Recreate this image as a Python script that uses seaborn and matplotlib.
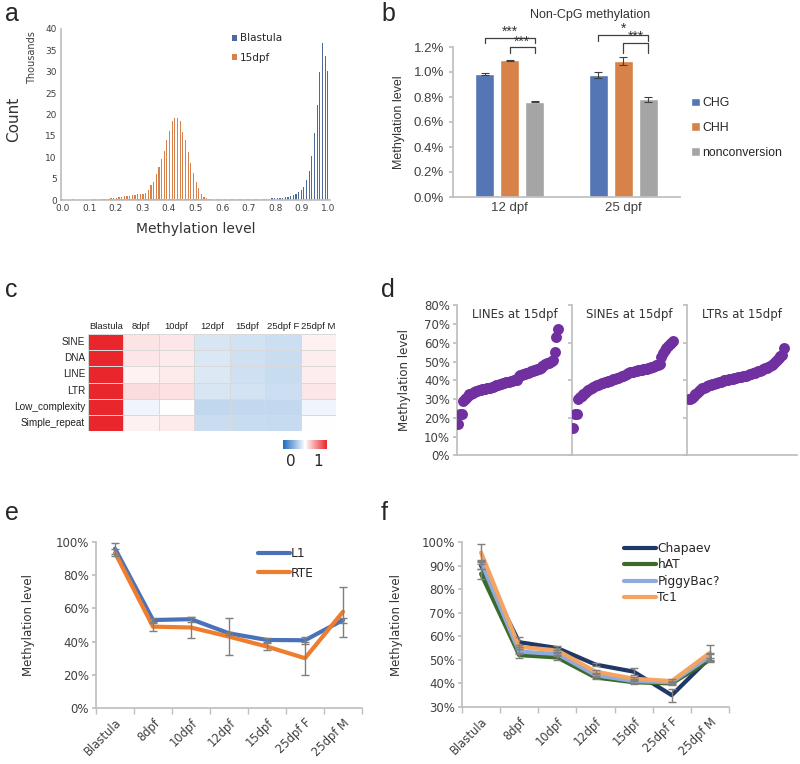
import numpy as np
import pandas as pd
import matplotlib
matplotlib.use('Agg')
import matplotlib.pyplot as plt
import seaborn as sns
from matplotlib.colors import LinearSegmentedColormap

# ---------------- data ----------------
# a: CpG methylation histogram, counts in thousands per 0.01 bin
hist_bins = np.round(np.arange(0, 101) / 100, 2)
blastula_counts = [
    0.20, 0.10, 0.10, 0.10, 0.12, 0.10, 0.10, 0.10, 0.10, 0.10,
    0.10, 0.10, 0.10, 0.10, 0.10, 0.12, 0.12, 0.12, 0.12, 0.12,
    0.12, 0.12, 0.12, 0.12, 0.12, 0.12, 0.12, 0.12, 0.12, 0.12,
    0.14, 0.14, 0.14, 0.14, 0.14, 0.15, 0.15, 0.15, 0.15, 0.15,
    0.16, 0.16, 0.16, 0.16, 0.16, 0.17, 0.17, 0.17, 0.17, 0.18,
    0.18, 0.18, 0.19, 0.19, 0.20, 0.22, 0.22, 0.23, 0.23, 0.24,
    0.24, 0.24, 0.25, 0.25, 0.25, 0.26, 0.26, 0.26, 0.27, 0.27,
    0.27, 0.28, 0.28, 0.29, 0.29, 0.30, 0.30, 0.32, 0.34, 0.36,
    0.38, 0.42, 0.47, 0.52, 0.60, 0.70, 0.85, 1.10, 1.40, 1.80,
    2.30, 3.10, 4.70, 6.70, 10.40, 15.60, 22.30, 30.00, 36.80, 33.80,
    30.20]
dpf15_counts = [
    0.03, 0.03, 0.03, 0.04, 0.04, 0.05, 0.05, 0.06, 0.07, 0.08,
    0.10, 0.12, 0.14, 0.17, 0.20, 0.24, 0.28, 0.33, 0.40, 0.48,
    0.56, 0.65, 0.74, 0.83, 0.92, 1.00, 1.10, 1.20, 1.30, 1.40,
    1.50, 1.70, 2.30, 3.50, 4.30, 6.00, 7.80, 9.50, 11.50, 14.00,
    16.20, 18.40, 19.20, 19.10, 18.40, 16.00, 14.00, 11.30, 8.60, 6.20,
    4.30, 2.70, 1.50, 0.80, 0.40, 0.15, 0.05, 0.02, 0.01, 0.01,
    0.0, 0.0, 0.0, 0.0, 0.0, 0.0, 0.0, 0.0, 0.0, 0.0,
    0.0, 0.0, 0.0, 0.0, 0.0, 0.0, 0.0, 0.0, 0.0, 0.0,
    0.0, 0.0, 0.0, 0.0, 0.0, 0.0, 0.0, 0.0, 0.0, 0.0,
    0.0, 0.0, 0.0, 0.0, 0.0, 0.0, 0.0, 0.0, 0.0, 0.0,
    0.0]

# b: non-CpG methylation (%)
b_stages = ['12 dpf', '25 dpf']
b_contexts = ['CHG', 'CHH', 'nonconversion']
chg_vals = [0.984, 0.977]
chg_err = [0.005, 0.022]
chh_vals = [1.093, 1.090]
chh_err = [0.004, 0.030]
noncon_vals = [0.763, 0.781]
noncon_err = [0.005, 0.023]
# significance brackets: stage, from bar, to bar, bar top, leg bottom, label
sig_marks = [(0, 0, 2, 1.272, 1.232, '***'), (0, 1, 2, 1.197, 1.152, '***'),
             (1, 0, 2, 1.299, 1.246, '*'), (1, 1, 2, 1.232, 1.152, '***')]

# c: relative repeat methylation heatmap
heat_rows = ['SINE', 'DNA', 'LINE', 'LTR', 'Low_complexity', 'Simple_repeat']
heat_cols = ['Blastula', '8dpf', '10dpf', '12dpf', '15dpf', '25dpf F', '25dpf M']
heat_values = [
    [1.00, 0.565, 0.555, 0.415, 0.400, 0.390, 0.535],
    [1.00, 0.555, 0.550, 0.420, 0.395, 0.385, 0.540],
    [1.00, 0.530, 0.550, 0.425, 0.395, 0.380, 0.540],
    [1.00, 0.580, 0.570, 0.415, 0.405, 0.390, 0.555],
    [1.00, 0.465, 0.500, 0.365, 0.370, 0.370, 0.465],
    [1.00, 0.535, 0.545, 0.385, 0.380, 0.375, 0.500],
]

# d: sorted methylation of repeat families at 15dpf (%)
line_vals = [16.8, 22.0, 22.3, 29.0, 29.8, 30.8, 31.8, 32.5, 33.0, 33.4,
             33.8, 34.2, 34.5, 34.8, 35.0, 35.2, 35.4, 35.6, 35.8, 36.0,
             36.2, 36.4, 36.7, 37.0, 37.3, 37.6, 37.9, 38.2, 38.5, 38.7,
             38.9, 39.1, 39.3, 39.5, 39.7, 40.0, 40.2, 40.4, 42.3, 42.7,
             43.0, 43.3, 43.6, 43.9, 44.2, 44.5, 44.8, 45.0, 45.3, 45.6,
             45.9, 46.2, 46.6, 47.6, 48.2, 48.7, 49.1, 49.5, 49.9, 50.3,
             50.7, 55.0, 63.3, 67.5]
sine_vals = [14.8, 22.0, 22.3, 30.3, 31.0, 31.8, 32.6, 33.4, 34.1, 34.8,
             35.4, 36.0, 36.5, 37.0, 37.4, 37.8, 38.1, 38.4, 38.7, 39.0,
             39.3, 39.6, 39.9, 40.2, 40.5, 40.8, 41.1, 41.4, 41.7, 42.1,
             42.6, 43.1, 43.6, 44.0, 44.3, 44.5, 44.7, 44.9, 45.1, 45.3,
             45.5, 45.7, 45.9, 46.1, 46.3, 46.5, 46.8, 47.1, 47.4, 47.7,
             48.0, 48.3, 48.6, 52.5, 54.5, 56.0, 57.2, 58.2, 59.2, 60.2,
             60.8]
ltr_vals = [29.8, 30.2, 30.8, 31.6, 32.5, 33.4, 34.3, 35.0, 35.7, 36.2,
            36.6, 37.0, 37.3, 37.6, 37.9, 38.2, 38.5, 38.8, 39.1, 39.4,
            39.7, 40.0, 40.2, 40.4, 40.6, 40.8, 41.0, 41.2, 41.4, 41.6,
            41.8, 42.0, 42.2, 42.4, 42.6, 42.9, 43.2, 43.5, 43.8, 44.1,
            44.4, 44.8, 45.2, 45.6, 46.0, 46.4, 46.8, 47.3, 47.8, 48.4,
            49.0, 49.8, 50.8, 51.8, 52.8, 53.6, 57.3]
d_titles = ['LINEs at 15dpf', 'SINEs at 15dpf', 'LTRs at 15dpf']

# e, f: methylation of repeat families across stages (%)
stages = ['Blastula', '8dpf', '10dpf', '12dpf', '15dpf', '25dpf F', '25dpf M']
l1_vals = [96.0, 53.0, 53.5, 45.0, 41.0, 40.8, 53.0]
l1_err = [3.5, 1.0, 1.5, 1.0, 1.0, 2.0, 1.5]
rte_vals = [93.5, 49.0, 48.5, 43.0, 37.0, 30.0, 58.0]
rte_err = [2.0, 2.5, 6.5, 11.0, 2.0, 10.0, 15.0]

chapaev_vals = [90.0, 57.5, 55.0, 48.0, 45.0, 35.0, 51.0]
chapaev_err = [1.5, 2.0, 1.0, 0.7, 1.5, 2.8, 1.5]
hat_vals = [86.5, 52.0, 51.0, 42.5, 40.5, 40.0, 50.0]
hat_err = [2.0, 1.0, 1.0, 0.7, 0.7, 0.7, 1.0]
piggybac_vals = [91.5, 53.5, 52.5, 43.5, 41.0, 40.5, 51.5]
piggybac_err = [1.0, 1.0, 1.0, 0.7, 0.7, 0.7, 1.5]
tc1_vals = [95.5, 55.5, 54.0, 45.0, 42.0, 41.0, 53.0]
tc1_err = [3.5, 1.0, 1.0, 0.7, 0.7, 0.7, 3.5]

# ---------------- style ----------------
sns.set_theme(style='white')
plt.rcParams['font.family'] = ['DejaVu Sans']
GRID = '#bfbfbf'
TXT = '#404040'

fig = plt.figure(figsize=(8, 7.64), dpi=100)


def px_axes(x0, y0, x1, y1):
    # axes rectangle in pixels measured from the top-left corner
    W, H = 800, 764
    return fig.add_axes([x0 / W, 1 - y1 / H, (x1 - x0) / W, (y1 - y0) / H])


def excel_spines(ax, left=True):
    for s in ['top', 'right']:
        ax.spines[s].set_visible(False)
    ax.spines['left'].set_visible(left)
    ax.spines['left'].set_color(GRID)
    ax.spines['bottom'].set_color(GRID)


for letter, x, y in [('a', 5, 21), ('b', 381, 21), ('c', 5, 297),
                     ('d', 381, 297), ('e', 5, 520), ('f', 381, 520)]:
    fig.text(x / 800, 1 - y / 764, letter, fontsize=18,
             family='Liberation Sans', va='baseline')

# ---------------- a ----------------
ax_a = px_axes(61, 29, 330, 200)
df_a = pd.DataFrame({'level': list(hist_bins) * 2,
                     'count': blastula_counts + dpf15_counts,
                     'stage': ['Blastula'] * 101 + ['15dpf'] * 101})
sns.barplot(data=df_a, x='level', y='count', hue='stage',
            hue_order=['Blastula', '15dpf'], palette=['#3f68a8', '#ec7a36'],
            width=0.92, linewidth=0, errorbar=None, ax=ax_a)
excel_spines(ax_a)
ax_a.set_xlim(-0.6, 100.6)
ax_a.set_ylim(0, 40)
ax_a.set_yticks(range(0, 41, 5))
ax_a.set_xticks(range(0, 101, 10))
ax_a.set_xticklabels([f'{v:.1f}' for v in hist_bins[::10]])
ax_a.tick_params(axis='both', labelsize=6.5, colors=TXT, length=0, pad=3)
ax_a.set_xlabel('Methylation level', fontsize=10, color='#333333', labelpad=6)
ax_a.set_ylabel('Count', fontsize=11, color='#333333')
ax_a.yaxis.set_label_coords(-0.15, 0.47)
fig.text(32 / 800, 1 - 58 / 764, 'Thousands', rotation=90, fontsize=7,
         color=TXT, ha='center', va='center')
h, l = ax_a.get_legend_handles_labels()
ax_a.legend(h, l, loc='upper left', bbox_to_anchor=(0.6, 1.03), frameon=False,
            fontsize=7.5, handlelength=0.5, handleheight=0.5,
            handletextpad=0.3, labelspacing=0.9)

# ---------------- b ----------------
ax_b = px_axes(453, 47, 680, 197)
df_b = pd.DataFrame({'stage': b_stages * 3,
                     'context': np.repeat(b_contexts, 2),
                     'level': chg_vals + chh_vals + noncon_vals})
sns.barplot(data=df_b, x='stage', y='level', hue='context',
            palette=['#4472c4', '#ed7d31', '#a5a5a5'], width=0.66, gap=0.24,
            errorbar=None, ax=ax_b)
bar_x = []
for cont, errs in zip(ax_b.containers, [chg_err, chh_err, noncon_err]):
    xs = [bar.get_x() + bar.get_width() / 2 for bar in cont]
    ys = [bar.get_height() for bar in cont]
    bar_x.append(xs)
    ax_b.errorbar(xs, ys, yerr=errs, fmt='none', ecolor='#404040',
                  elinewidth=0.8, capsize=3, capthick=0.8)
for st, i0, i1, top, leg, lab in sig_marks:
    x0, x1 = bar_x[i0][st], bar_x[i1][st]
    ax_b.plot([x0, x0, x1, x1], [leg, top, top, leg], color='#404040',
              lw=0.9, clip_on=False)
    ax_b.text((x0 + x1) / 2, top - 0.008, lab, ha='center', va='bottom',
              fontsize=10, family='Liberation Sans', color='#333333')
excel_spines(ax_b)
ax_b.set_ylim(0, 1.2)
ax_b.set_xlim(-0.5, 1.5)
ax_b.set_yticks(np.arange(0, 1.21, 0.2))
ax_b.set_yticklabels([f'{v:.1f}%' for v in np.arange(0, 1.21, 0.2)])
ax_b.set_xticks([-0.5, 0.5, 1.5], minor=True)
ax_b.tick_params(axis='x', which='minor', length=4, color=GRID, direction='out')
ax_b.tick_params(axis='x', which='major', length=0)
ax_b.tick_params(axis='y', length=3, color=GRID, left=True)
for t in ax_b.get_xticklabels() + ax_b.get_yticklabels():
    t.set_family('Liberation Sans')
    t.set_fontsize(9.5)
    t.set_color(TXT)
ax_b.set_xlabel('')
ax_b.set_ylabel('Methylation level', fontsize=9, family='Liberation Sans',
                color='#333333')
ax_b.yaxis.set_label_coords(-0.21, 0.5)
fig.text(590 / 800, 1 - 15 / 764, 'Non-CpG methylation', fontsize=9,
         family='Liberation Sans', color='#333333', ha='center', va='center')
ax_b.legend(loc='center left', bbox_to_anchor=(1.0, 0.46), frameon=False,
            prop={'family': 'Liberation Sans', 'size': 8.8},
            handlelength=0.7, handleheight=0.7, handletextpad=0.25,
            labelspacing=1.05)

# ---------------- c ----------------
ax_c = px_axes(88, 334, 336, 431)
cax = px_axes(283, 440, 327, 449)
heat_cmap = LinearSegmentedColormap.from_list(
    'rel', ['#1a6cc0', '#ffffff', '#e8262b'])
df_c = pd.DataFrame(heat_values, index=heat_rows, columns=heat_cols)
sns.heatmap(df_c, cmap=heat_cmap, vmin=0, vmax=1, linewidths=0.7,
            linecolor='#d9d9d9', cbar_ax=cax, xticklabels=True,
            yticklabels=True, cbar_kws={'orientation': 'horizontal'}, ax=ax_c)
ax_c.xaxis.tick_top()
ax_c.tick_params(length=0, pad=2, colors='#222222')
for t in ax_c.get_xticklabels() + ax_c.get_yticklabels():
    t.set_rotation(0)
    t.set_family('Liberation Sans')
    t.set_fontsize(7.2)
for t in ax_c.get_xticklabels():
    t.set_fontsize(6.8)
cax.set_xticks([])
cax.set_yticks([])
for sp in cax.spines.values():
    sp.set_visible(False)
fig.text(291 / 800, 1 - 462 / 764, '0', fontsize=11, ha='center', va='center')
fig.text(318 / 800, 1 - 462 / 764, '1', fontsize=11, ha='center', va='center')

# ---------------- d ----------------
d_bounds = [(457, 572), (572, 687), (687, 797)]
for k, ((x0, x1), vals, title) in enumerate(zip(d_bounds,
                                                [line_vals, sine_vals, ltr_vals],
                                                d_titles)):
    ax = px_axes(x0, 305.5, x1, 455.3)
    idx = list(range(len(vals)))
    sns.scatterplot(x=idx, y=vals, color='#7030a0', s=62, linewidth=0,
                    ax=ax, zorder=3)
    excel_spines(ax)
    ax.set_ylim(0, 80)
    ax.set_xlim(-0.9, (len(vals) - 1) * 1.14)
    ax.set_xticks([])
    ax.text(0.5, 0.985, title, transform=ax.transAxes, ha='center', va='top',
            fontsize=8.5, color='#333333')
    if k == 0:
        ax.set_yticks(range(0, 81, 10))
        ax.set_yticklabels([f'{v}%' for v in range(0, 81, 10)])
        ax.tick_params(axis='y', labelsize=8.5, colors=TXT, length=3,
                       color=GRID, left=True, pad=2)
        ax.set_ylabel('Methylation level', fontsize=8.5, color='#333333')
        ax.yaxis.set_label_coords(-0.40, 0.5)
    else:
        ax.set_yticks(range(0, 81, 20))
        ax.set_yticklabels([])
        ax.tick_params(axis='y', length=3, color=GRID, left=True)

# ---------------- e / f ----------------
pos = list(range(len(stages)))


def stage_axes(ax, series, ylim, ystep, legend_anchor, lab_x, spacing):
    for name, vals, errs, color in series:
        sns.lineplot(x=pos, y=vals, color=color, lw=3, label=name, ax=ax,
                     zorder=2)
    for name, vals, errs, color in series:
        ax.errorbar(pos, vals, yerr=errs, fmt='none', ecolor='#7f7f7f',
                    elinewidth=1, capsize=3, capthick=1, zorder=3)
    excel_spines(ax)
    ax.set_xlim(-0.5, len(stages) - 0.5)
    ax.set_ylim(*ylim)
    ticks = range(ylim[0], ylim[1] + 1, ystep)
    ax.set_yticks(ticks)
    ax.set_yticklabels([f'{t}%' for t in ticks])
    ax.set_xticks(pos)
    ax.set_xticklabels(stages, rotation=45, ha='right', rotation_mode='anchor')
    ax.set_xticks([p - 0.5 for p in pos] + [len(stages) - 0.5], minor=True)
    ax.tick_params(axis='x', which='major', length=0, pad=6, labelsize=8.3,
                   colors=TXT)
    ax.tick_params(axis='x', which='minor', length=4, color=GRID, bottom=True)
    ax.tick_params(axis='y', length=3, color=GRID, left=True, labelsize=8.5,
                   colors=TXT, pad=2)
    ax.set_ylabel('Methylation level', fontsize=8.5, color='#333333')
    ax.yaxis.set_label_coords(lab_x, 0.5)
    ax.legend(loc='upper left', bbox_to_anchor=legend_anchor, frameon=False,
              fontsize=8.8, handlelength=2.6, handletextpad=0.1,
              labelspacing=spacing, borderaxespad=0)


ax_e = px_axes(96, 542, 362, 708)
stage_axes(ax_e, [('L1', l1_vals, l1_err, '#4a72b8'),
                  ('RTE', rte_vals, rte_err, '#ef7d2e')],
           (0, 100), 20, (0.59, 1.0), -0.23, 0.55)

ax_f = px_axes(462, 542, 729, 707)
stage_axes(ax_f, [('Chapaev', chapaev_vals, chapaev_err, '#1f3864'),
                  ('hAT', hat_vals, hat_err, '#3b6b2a'),
                  ('PiggyBac?', piggybac_vals, piggybac_err, '#8faadc'),
                  ('Tc1', tc1_vals, tc1_err, '#f4a460')],
           (30, 100), 10, (0.59, 1.03), -0.22, 0.28)

fig.savefig('out.png', dpi=100)
